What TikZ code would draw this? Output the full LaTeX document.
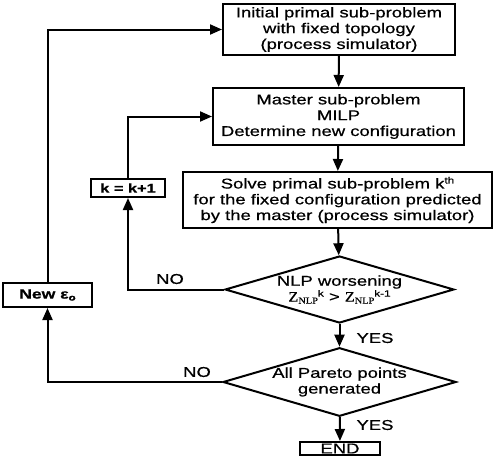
\documentclass[tikz,border=0pt]{standalone}
\usepackage{fontspec}
\setmainfont[FakeStretch=1.3,FakeBold=0.6]{Liberation Sans}
\newfontfamily\zserif[FakeStretch=1.15,FakeBold=0.6]{Liberation Serif}
\usetikzlibrary{shapes.geometric,arrows.meta}
\begin{document}
\begin{tikzpicture}[x=1pt,y=-1pt,
  every node/.style={font=\fontsize{14.2}{15.8}\selectfont},
  procbox/.style={draw,line width=2pt,align=center,inner sep=0pt},
  decide/.style={draw,line width=2pt,shape=diamond,align=center,inner sep=0pt,aspect=3.4},
  flow/.style={line width=2pt,-{Triangle[length=12pt,width=10pt]}},
  lbl/.style={inner sep=0pt}]
\useasboundingbox (0,0) rectangle (498,458);
\node[procbox,minimum width=232pt,minimum height=51pt] (b1) at (339,29.5)
  {Initial primal sub-problem\\with fixed topology\\(process simulator)};
\node[procbox,minimum width=251pt,minimum height=57pt] (b2) at (338.5,116.5)
  {Master sub-problem\\MILP\\Determine new configuration};
\node[procbox,minimum width=309pt,minimum height=56pt] (b3) at (337.5,200)
  {Solve primal sub-problem k\raisebox{5pt}{\fontsize{9}{9}\selectfont th}\\for the fixed configuration predicted\\by the master (process simulator)};
\node[decide,minimum width=229pt,minimum height=67pt] (d1) at (339.5,289.5)
  {NLP worsening\\{\zserif Z\raisebox{-2pt}{\fontsize{9}{9}\selectfont NLP}}\raisebox{5pt}{\fontsize{9}{9}\selectfont k} \textgreater{} {\zserif Z\raisebox{-2pt}{\fontsize{9}{9}\selectfont NLP}}\raisebox{5pt}{\fontsize{9}{9}\selectfont k-1}};
\node[decide,minimum width=229pt,minimum height=66pt] (d2) at (339.5,382)
  {All Pareto points\\generated};
\node[procbox,minimum width=80pt,minimum height=13pt] (e) at (340,448.5) {END};
\node[procbox,minimum width=74pt,minimum height=18pt,font=\fontsize{12.6}{14}\selectfont\bfseries] (k) at (128,188) {k = k+1};
\node[procbox,minimum width=89pt,minimum height=24pt,font=\fontsize{13.5}{15}\selectfont\bfseries] (eps) at (47.5,295) {New ε\raisebox{-2pt}{\fontsize{9}{9}\selectfont o}};
\draw[flow] (b1) -- (b2);
\draw[flow] (b2) -- (b3);
\draw[flow] (b3) -- (d1);
\draw[flow] (d1) -- (d2);
\draw[flow] (d2) -- (e);
\draw[flow] (d1.west) -| (k.south);
\draw[flow] (k.north) |- (b2.west);
\draw[flow] (d2.west) -| (eps.south);
\draw[flow] (eps.north) |- (b1.west);
\node[lbl] (yes1) at (375,338) {YES};
\node[lbl] (yes2) at (375,425) {YES};
\node[lbl] (no1) at (170,279) {NO};
\node[lbl] (no2) at (197,372) {NO};
\end{tikzpicture}
\end{document}
